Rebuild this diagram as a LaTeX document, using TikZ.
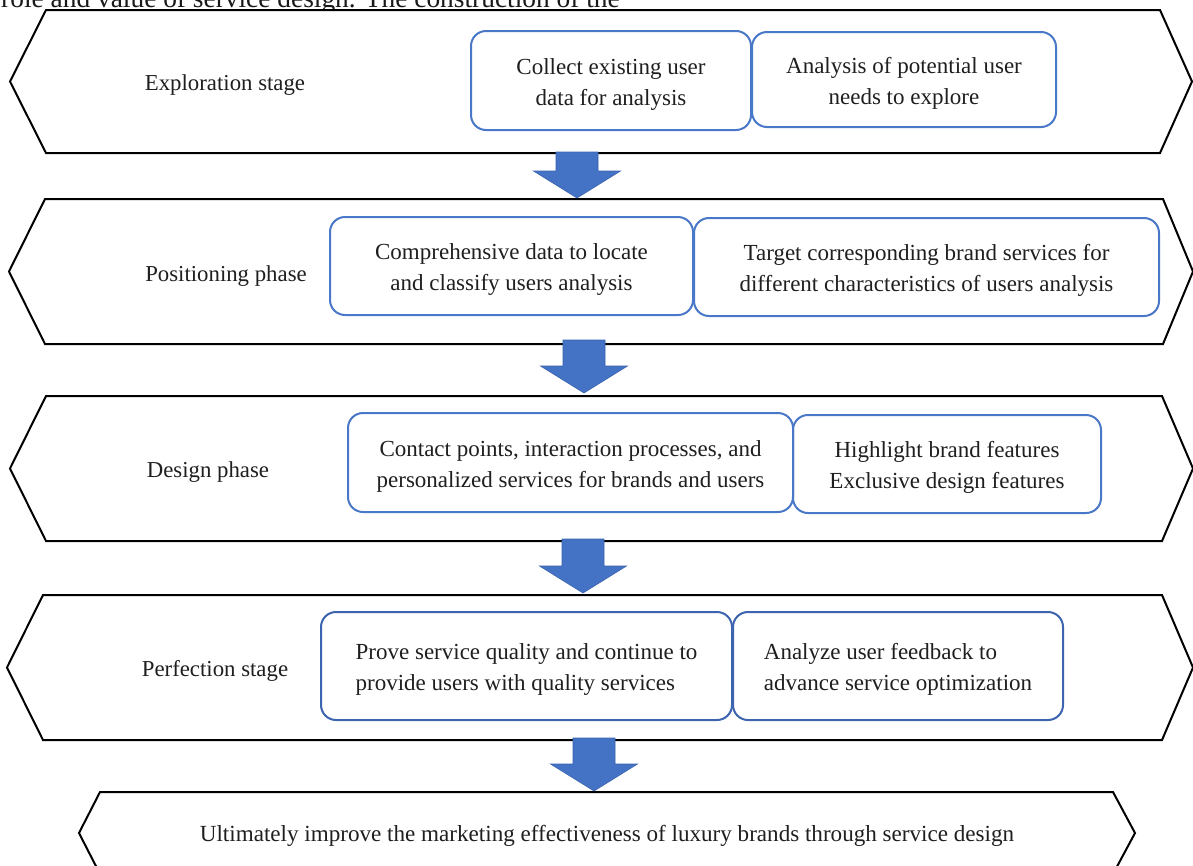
\documentclass[tikz,border=0pt]{standalone}
\usepackage{fontspec}
\setmainfont{Liberation Serif}
\usetikzlibrary{calc}
\definecolor{boxblue}{HTML}{4A78C8}
\definecolor{boxbluedk}{HTML}{3D64AE}
\definecolor{arrowblue}{HTML}{4472C4}
\definecolor{arrowedge}{HTML}{3A63AE}
\tikzset{
  hexline/.style={draw=black, line width=2pt, line join=miter},
  stagebox/.style={draw=boxblue, line width=2pt, rounded corners=15pt, inner sep=0pt},
  boxtext/.style={inner sep=0pt, align=center, yshift=-3.5pt,
    font=\fontsize{23}{31}\selectfont, text=black!88},
  stagelabel/.style={inner sep=0pt, font=\fontsize{22.8}{28}\selectfont, text=black!88},
  barrow/.style={fill=arrowblue, draw=arrowedge, line width=0.6pt, line join=miter},
}
\newcommand\blockarrow[2]{%
  \path[barrow] let \p1=(#1), \p2=(#2) in
    (\x2-21pt,\y1) -- (\x2+21pt,\y1) -- (\x2+21pt,\y2+27pt) -- (\x2+43.5pt,\y2+27pt)
    -- (\x2,\y2) -- (\x2-43.5pt,\y2+27pt) -- (\x2-21pt,\y2+27pt) -- cycle;}
\newcommand\hexagon[7]{% top bottom midy lefttip leftcorner rightcorner righttip
  \draw[hexline, fill=white] (#5,#1) -- (#6,#1) -- (#7,#3) -- (#6,#2) -- (#5,#2) -- (#4,#3) -- cycle;}
\begin{document}
\begin{tikzpicture}[x=1pt,y=-1pt]
\useasboundingbox (0,0) rectangle (1193,865);
\fill[white] (0,0) rectangle (1193,865);

% clipped running text at top
\node[anchor=base west, inner sep=0pt, font=\fontsize{27.4}{30}\selectfont, text=black!90] (toptext) at (1,7)
  {role and value of service design. The construction of the};

% stage hexagons
\hexagon{10}{153}{81.5}{10}{46}{1160}{1192}
\hexagon{199}{344}{271.5}{9}{45}{1163}{1193}
\hexagon{396}{541}{468.5}{10}{46}{1162}{1193}
\hexagon{595}{740}{667.5}{7}{43}{1162}{1193}
\hexagon{792}{874}{833}{79}{100}{1113}{1135}

% stage labels
\node[stagelabel] (l1) at (225,85) {Exploration stage};
\node[stagelabel] (l2) at (226,276) {Positioning phase};
\node[stagelabel] (l3) at (208,472) {Design phase};
\node[stagelabel] (l4) at (215,671) {Perfection stage};
\node[stagelabel, font=\fontsize{23.1}{28}\selectfont] (l5) at (607,836)
  {Ultimately improve the marketing effectiveness of luxury brands through service design};

% content boxes
\node[stagebox, minimum width=280, minimum height=99,
  label={[boxtext]center:{Collect existing user\\data for analysis}}] (a) at (611,80.5) {};
\node[stagebox, minimum width=304, minimum height=95,
  label={[boxtext]center:{Analysis of potential user\\needs to explore}}] (b) at (904,79.5) {};
\node[stagebox, minimum width=363, minimum height=98,
  label={[boxtext]center:{Comprehensive data to locate\\and classify users analysis}}] (c) at (511.5,266) {};
\node[stagebox, minimum width=465, minimum height=98,
  label={[boxtext]center:{Target corresponding brand services for\\different characteristics of users analysis}}] (d) at (926.5,267) {};
\node[stagebox, minimum width=445, minimum height=99,
  label={[boxtext]center:{Contact points, interaction processes, and\\personalized services for brands and users}}] (e) at (570.5,462.5) {};
\node[stagebox, minimum width=308, minimum height=98,
  label={[boxtext]center:{Highlight brand features\\Exclusive design features}}] (f) at (947,464) {};
\node[stagebox, draw=boxbluedk, minimum width=411, minimum height=108,
  label={[boxtext, align=left]center:{Prove service quality and continue to\\provide users with quality services}}] (g) at (526.5,666) {};
\node[stagebox, draw=boxbluedk, minimum width=330, minimum height=108,
  label={[boxtext, align=left]center:{Analyze user feedback to\\advance service optimization}}] (h) at (898,666) {};

% connecting block arrows
\coordinate (s1) at (577,152);  \coordinate (t1) at (577,198);
\coordinate (s2) at (584,340);  \coordinate (t2) at (584,393);
\coordinate (s3) at (583,539);  \coordinate (t3) at (583,593);
\coordinate (s4) at (594,738);  \coordinate (t4) at (594,791);
\blockarrow{s1}{t1}
\blockarrow{s2}{t2}
\blockarrow{s3}{t3}
\blockarrow{s4}{t4}
\end{tikzpicture}
\end{document}
